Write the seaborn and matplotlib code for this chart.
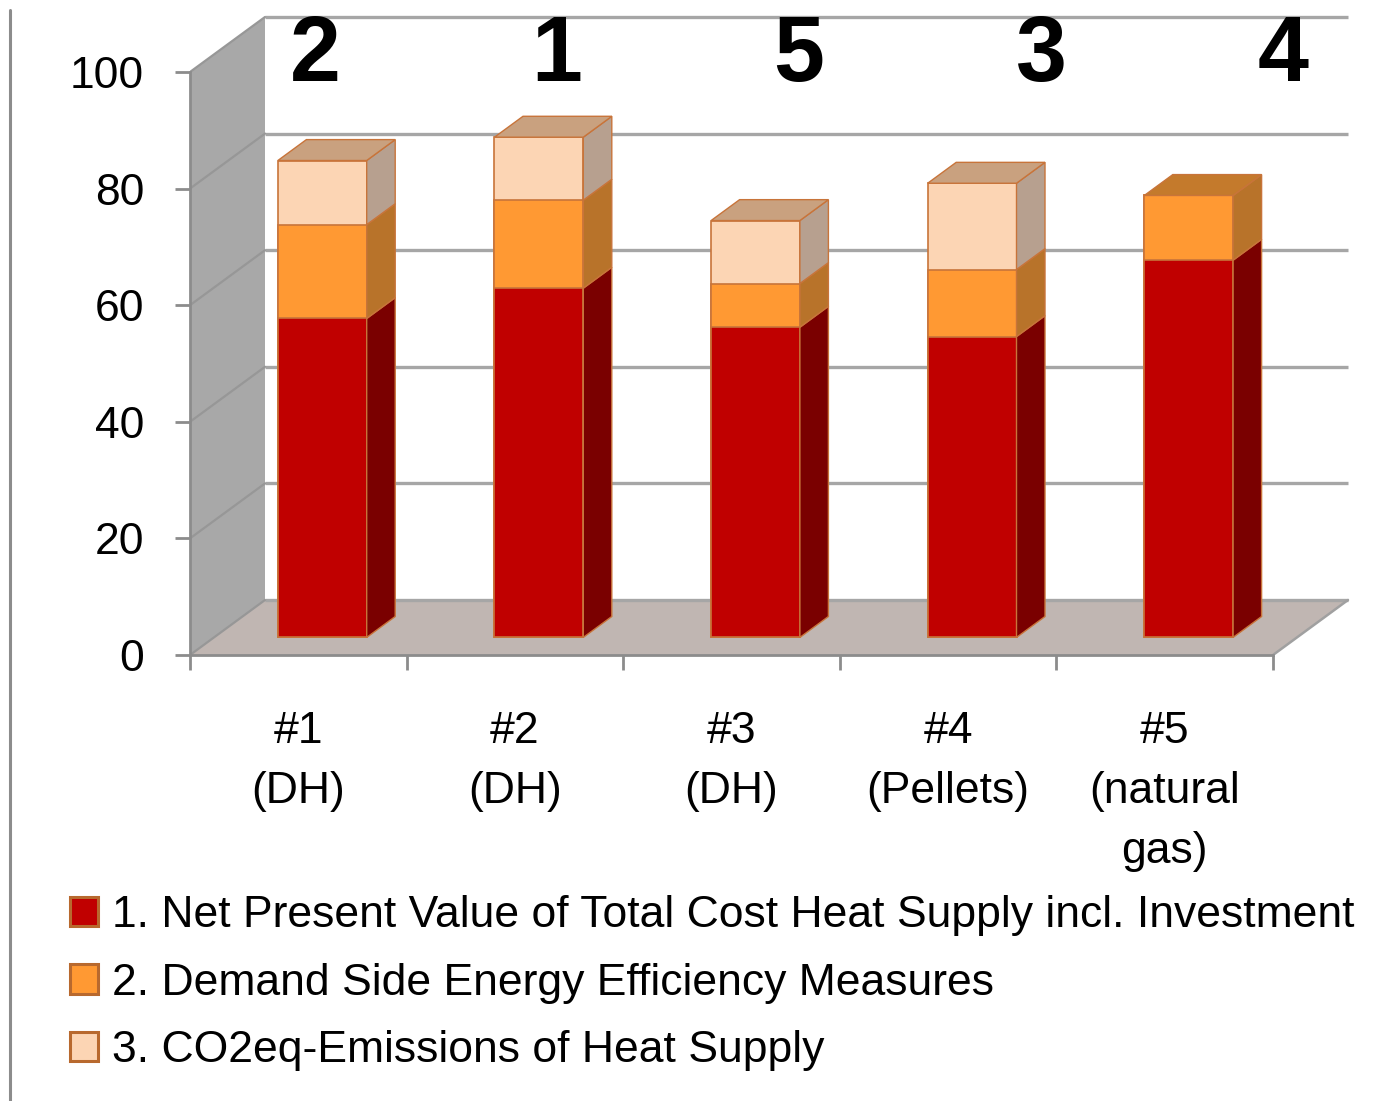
import numpy as np
import pandas as pd
import seaborn as sns
import matplotlib.pyplot as plt
import matplotlib.transforms as mtransforms
from matplotlib.patches import Polygon, Patch
from matplotlib.lines import Line2D

# ---- data -------------------------------------------------------------
categories = ["#1\n(DH)", "#2\n(DH)", "#3\n(DH)", "#4\n(Pellets)", "#5\n(natural\ngas)"]
npv_cost = [54.7, 59.9, 53.2, 51.6, 64.7]        # 1. Net Present Value ...
demand_side = [16.1, 15.1, 7.5, 11.5, 11.1]      # 2. Demand Side ...
co2_emissions = [11.0, 10.8, 10.8, 14.8, 0.0]    # 3. CO2eq-Emissions ...
ranks = ["2", "1", "5", "3", "4"]
series_labels = [
    "1. Net Present Value of Total Cost Heat Supply incl. Investment",
    "2. Demand Side Energy Efficiency Measures",
    "3. CO2eq-Emissions of Heat Supply",
]
y_ticks = [0, 20, 40, 60, 80, 100]

# ---- style ------------------------------------------------------------
sns.set_theme(style="white")
plt.rcParams["font.family"] = ["Liberation Sans", "DejaVu Sans"]
plt.rcParams["text.color"] = "black"
plt.rcParams["xtick.color"] = "black"
plt.rcParams["ytick.color"] = "black"
label_size = 32

front_colors = ["#C00000", "#FF9933", "#FCD5B4"]
side_colors = ["#7A0000", "#B8732A", "#B7A08F"]
top_colors = ["#C47A2C", "#C47A2C", "#C9A17F"]
edge_color = "#C8743A"
axis_grey = "#8C8C8C"

W, H = 1381, 1101
fig = plt.figure(figsize=(W / 100, H / 100), dpi=100)
fig.patch.set_facecolor("white")

# plot area: one category = 216.6 px, one value unit = 5.83 px
CAT_PX, VAL_PX = 216.6, 5.83
left_px, right_px, bottom_px, top_px = 190, 1360, 655, 10
ax = fig.add_axes([left_px / W, (H - bottom_px) / H,
                   (right_px - left_px) / W, (bottom_px - top_px) / H])
xlim = (-0.5, -0.5 + (right_px - left_px) / CAT_PX)
ylim = (0, (bottom_px - top_px) / VAL_PX)

# oblique depth of the 3-D box (data units)
DX, DY = 75 / CAT_PX, 55 / VAL_PX
F0, F1 = 0.32, 0.70          # bar front / back depth fraction
n = len(categories)
x0, x1 = -0.5, n - 0.5

# ---- walls, floor and grid --------------------------------------------
ax.add_patch(Polygon([(x0, 0), (x0, 100), (x0 + DX, 100 + DY), (x0 + DX, DY)],
                     closed=True, facecolor="#A8A8A8", edgecolor="none", zorder=0))
ax.add_patch(Polygon([(x0, 0), (x1, 0), (x1 + DX, DY), (x0 + DX, DY)],
                     closed=True, facecolor="#C0B6B2", edgecolor="none", zorder=0))
for v in y_ticks:
    ax.plot([x0 + DX, x1 + DX], [v + DY, v + DY], color="#A6A6A6", lw=2.4, zorder=1,
            solid_capstyle="butt")
    if 0 < v:
        ax.plot([x0, x0 + DX], [v, v + DY], color="#979797", lw=1.6, zorder=1)
ax.plot([x0, x0 + DX], [0, DY], color="#979797", lw=1.6, zorder=1)
ax.plot([x1, x1 + DX], [0, DY], color="#A0A0A0", lw=1.8, zorder=1)

# ---- stacked bars (front faces via seaborn) ----------------------------
segments = [np.array(npv_cost), np.array(demand_side), np.array(co2_emissions)]
bottoms = [np.zeros(n), segments[0], segments[0] + segments[1]]
tops = [b + s for b, s in zip(bottoms, segments)]

front_shift = mtransforms.Affine2D().translate(F0 * DX, F0 * DY) + ax.transData
bar_boxes = []
for k in [2, 1, 0]:
    before = len(ax.patches)
    sns.barplot(x=categories, y=tops[k], color=front_colors[k], saturation=1,
                width=0.41, edgecolor=edge_color, linewidth=1.2, ax=ax, zorder=3)
    new = ax.patches[before:]
    for p in new:
        p.set_transform(front_shift)
    if k == 0:
        bar_boxes = [(p.get_x(), p.get_x() + p.get_width()) for p in new]

# side and top faces of every segment
for i, (xl, xr) in enumerate(bar_boxes):
    for k in range(3):
        b, t = bottoms[k][i], tops[k][i]
        if t - b <= 0:
            continue
        ax.add_patch(Polygon([(xr + F0 * DX, b + F0 * DY), (xr + F1 * DX, b + F1 * DY),
                              (xr + F1 * DX, t + F1 * DY), (xr + F0 * DX, t + F0 * DY)],
                             closed=True, facecolor=side_colors[k], edgecolor=edge_color,
                             lw=1.0, zorder=3))
    k_top = max(k for k in range(3) if tops[k][i] - bottoms[k][i] > 0)
    T = tops[k_top][i]
    ax.add_patch(Polygon([(xl + F0 * DX, T + F0 * DY), (xr + F0 * DX, T + F0 * DY),
                          (xr + F1 * DX, T + F1 * DY), (xl + F1 * DX, T + F1 * DY)],
                         closed=True, facecolor=top_colors[k_top], edgecolor=edge_color,
                         lw=1.0, zorder=3))

# ---- axes ---------------------------------------------------------------
ax.set_xlim(*xlim)
ax.set_ylim(*ylim)
ax.set_facecolor("none")
for s in ["top", "right"]:
    ax.spines[s].set_visible(False)
for s in ["left", "bottom"]:
    ax.spines[s].set_color(axis_grey)
    ax.spines[s].set_linewidth(2)
ax.spines["left"].set_bounds(0, 100)
ax.spines["bottom"].set_bounds(x0, x1)

ax.set_yticks(y_ticks)
ax.set_yticklabels([str(v) for v in y_ticks], fontsize=label_size)
ax.tick_params(axis="y", direction="out", length=11, width=2, color=axis_grey,
               pad=22, left=True, labelcolor="black")

ax.set_xticks(np.arange(n + 1) - 0.5)
ax.set_xticklabels([""] * (n + 1))
ax.set_xticks(np.arange(n), minor=True)
ax.set_xticklabels(categories, minor=True, fontsize=label_size, linespacing=1.6,
                   va="top")
ax.tick_params(axis="x", which="major", direction="out", length=11, width=2,
               color=axis_grey, bottom=True)
ax.tick_params(axis="x", which="minor", length=0, pad=40, labelcolor="black")
ax.set_xlabel("")
ax.set_ylabel("")
ax.grid(False)

# ---- ranking header -------------------------------------------------------
for i, r in enumerate(ranks):
    fig.text((315 + 242 * i) / W, 1 - 57 / H, r, ha="center", va="center",
             fontsize=66, fontweight="bold", color="black")

# ---- legend ---------------------------------------------------------------
handles = [Patch(facecolor=c, edgecolor="#B8692E", linewidth=2.2) for c in front_colors]
leg = fig.legend(handles, series_labels, loc="upper left",
                 bbox_to_anchor=(70 / W, 1 - 895 / H), frameon=False,
                 fontsize=label_size, handlelength=0.64, handleheight=0.64,
                 handletextpad=0.3, labelspacing=0.6, borderpad=0, borderaxespad=0)
for t in leg.get_texts():
    t.set_color("black")

# left border of the chart area
fig.add_artist(Line2D([10 / W, 10 / W], [0, 1 - 10 / H], color=axis_grey, lw=2.2))

fig.savefig("out.png", dpi=100, facecolor="white")
